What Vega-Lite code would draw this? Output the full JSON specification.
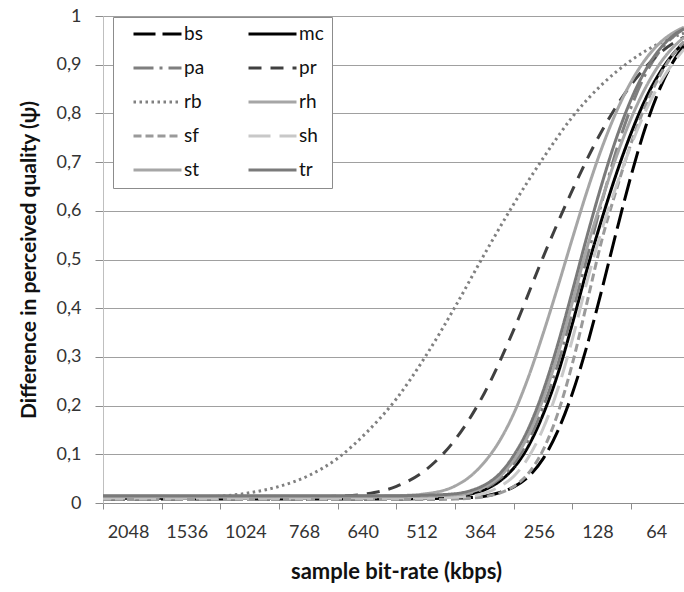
{
  "$schema": "https://vega.github.io/schema/vega-lite/v6.json",
  "width": 581,
  "height": 487,
  "autosize": {"type": "none"},
  "padding": {"left": 103, "top": 16, "right": 0, "bottom": 89},
  "background": "white",
  "config": {"font": "Lato", "view": {"stroke": null}},
  "data": {"values": [
    {"s":"bs","x":0,"y":0.008},{"s":"bs","x":2,"y":0.008},{"s":"bs","x":4,"y":0.008},{"s":"bs","x":5,"y":0.008},{"s":"bs","x":5.5,"y":0.009},{"s":"bs","x":6,"y":0.01},{"s":"bs","x":6.25,"y":0.011},{"s":"bs","x":6.5,"y":0.014},{"s":"bs","x":6.75,"y":0.021},{"s":"bs","x":7,"y":0.033},{"s":"bs","x":7.25,"y":0.054},{"s":"bs","x":7.5,"y":0.091},{"s":"bs","x":7.75,"y":0.148},{"s":"bs","x":8,"y":0.226},{"s":"bs","x":8.25,"y":0.324},{"s":"bs","x":8.5,"y":0.438},{"s":"bs","x":8.75,"y":0.558},{"s":"bs","x":9,"y":0.673},{"s":"bs","x":9.25,"y":0.774},{"s":"bs","x":9.5,"y":0.854},{"s":"bs","x":9.75,"y":0.913},{"s":"bs","x":9.9,"y":0.939},
    {"s":"mc","x":0,"y":0.01},{"s":"mc","x":2,"y":0.01},{"s":"mc","x":4,"y":0.01},{"s":"mc","x":5,"y":0.01},{"s":"mc","x":5.5,"y":0.01},{"s":"mc","x":6,"y":0.013},{"s":"mc","x":6.25,"y":0.018},{"s":"mc","x":6.5,"y":0.027},{"s":"mc","x":6.75,"y":0.044},{"s":"mc","x":7,"y":0.072},{"s":"mc","x":7.25,"y":0.117},{"s":"mc","x":7.5,"y":0.182},{"s":"mc","x":7.75,"y":0.265},{"s":"mc","x":8,"y":0.369},{"s":"mc","x":8.25,"y":0.481},{"s":"mc","x":8.5,"y":0.583},{"s":"mc","x":8.75,"y":0.677},{"s":"mc","x":9,"y":0.76},{"s":"mc","x":9.25,"y":0.831},{"s":"mc","x":9.5,"y":0.886},{"s":"mc","x":9.75,"y":0.927},{"s":"mc","x":9.9,"y":0.946},
    {"s":"pa","x":0,"y":0.012},{"s":"pa","x":2,"y":0.012},{"s":"pa","x":4,"y":0.012},{"s":"pa","x":5,"y":0.012},{"s":"pa","x":5.5,"y":0.013},{"s":"pa","x":6,"y":0.015},{"s":"pa","x":6.25,"y":0.02},{"s":"pa","x":6.5,"y":0.03},{"s":"pa","x":6.75,"y":0.049},{"s":"pa","x":7,"y":0.08},{"s":"pa","x":7.25,"y":0.128},{"s":"pa","x":7.5,"y":0.197},{"s":"pa","x":7.75,"y":0.285},{"s":"pa","x":8,"y":0.392},{"s":"pa","x":8.25,"y":0.505},{"s":"pa","x":8.5,"y":0.618},{"s":"pa","x":8.75,"y":0.725},{"s":"pa","x":9,"y":0.813},{"s":"pa","x":9.25,"y":0.882},{"s":"pa","x":9.5,"y":0.93},{"s":"pa","x":9.75,"y":0.961},{"s":"pa","x":9.9,"y":0.974},
    {"s":"pr","x":0,"y":0.012},{"s":"pr","x":1,"y":0.012},{"s":"pr","x":2,"y":0.012},{"s":"pr","x":3,"y":0.012},{"s":"pr","x":3.5,"y":0.012},{"s":"pr","x":4,"y":0.014},{"s":"pr","x":4.5,"y":0.019},{"s":"pr","x":5,"y":0.034},{"s":"pr","x":5.5,"y":0.068},{"s":"pr","x":6,"y":0.13},{"s":"pr","x":6.5,"y":0.226},{"s":"pr","x":7,"y":0.356},{"s":"pr","x":7.5,"y":0.505},{"s":"pr","x":8,"y":0.643},{"s":"pr","x":8.5,"y":0.764},{"s":"pr","x":9,"y":0.859},{"s":"pr","x":9.5,"y":0.925},{"s":"pr","x":9.9,"y":0.957},
    {"s":"rb","x":0,"y":0.01},{"s":"rb","x":1,"y":0.01},{"s":"rb","x":2,"y":0.014},{"s":"rb","x":2.5,"y":0.021},{"s":"rb","x":3,"y":0.034},{"s":"rb","x":3.5,"y":0.056},{"s":"rb","x":4,"y":0.092},{"s":"rb","x":4.5,"y":0.146},{"s":"rb","x":5,"y":0.214},{"s":"rb","x":5.5,"y":0.302},{"s":"rb","x":6,"y":0.403},{"s":"rb","x":6.5,"y":0.511},{"s":"rb","x":7,"y":0.614},{"s":"rb","x":7.5,"y":0.708},{"s":"rb","x":8,"y":0.793},{"s":"rb","x":8.5,"y":0.859},{"s":"rb","x":9,"y":0.909},{"s":"rb","x":9.5,"y":0.945},{"s":"rb","x":9.9,"y":0.965},
    {"s":"rh","x":0,"y":0.014},{"s":"rh","x":2,"y":0.014},{"s":"rh","x":4,"y":0.014},{"s":"rh","x":5,"y":0.015},{"s":"rh","x":5.5,"y":0.019},{"s":"rh","x":6,"y":0.035},{"s":"rh","x":6.25,"y":0.054},{"s":"rh","x":6.5,"y":0.084},{"s":"rh","x":6.75,"y":0.126},{"s":"rh","x":7,"y":0.184},{"s":"rh","x":7.25,"y":0.259},{"s":"rh","x":7.5,"y":0.348},{"s":"rh","x":7.75,"y":0.444},{"s":"rh","x":8,"y":0.544},{"s":"rh","x":8.25,"y":0.641},{"s":"rh","x":8.5,"y":0.729},{"s":"rh","x":8.75,"y":0.804},{"s":"rh","x":9,"y":0.865},{"s":"rh","x":9.25,"y":0.912},{"s":"rh","x":9.5,"y":0.946},{"s":"rh","x":9.75,"y":0.968},{"s":"rh","x":9.9,"y":0.977},
    {"s":"sf","x":0,"y":0.007},{"s":"sf","x":2,"y":0.007},{"s":"sf","x":4,"y":0.007},{"s":"sf","x":5,"y":0.007},{"s":"sf","x":5.5,"y":0.007},{"s":"sf","x":6,"y":0.008},{"s":"sf","x":6.25,"y":0.01},{"s":"sf","x":6.5,"y":0.013},{"s":"sf","x":6.75,"y":0.02},{"s":"sf","x":7,"y":0.034},{"s":"sf","x":7.25,"y":0.061},{"s":"sf","x":7.5,"y":0.109},{"s":"sf","x":7.75,"y":0.184},{"s":"sf","x":8,"y":0.287},{"s":"sf","x":8.25,"y":0.413},{"s":"sf","x":8.5,"y":0.54},{"s":"sf","x":8.75,"y":0.644},{"s":"sf","x":9,"y":0.739},{"s":"sf","x":9.25,"y":0.818},{"s":"sf","x":9.5,"y":0.88},{"s":"sf","x":9.75,"y":0.927},{"s":"sf","x":9.9,"y":0.947},
    {"s":"sh","x":0,"y":0.01},{"s":"sh","x":2,"y":0.01},{"s":"sh","x":4,"y":0.01},{"s":"sh","x":5,"y":0.01},{"s":"sh","x":5.5,"y":0.01},{"s":"sh","x":6,"y":0.012},{"s":"sh","x":6.25,"y":0.014},{"s":"sh","x":6.5,"y":0.02},{"s":"sh","x":6.75,"y":0.033},{"s":"sh","x":7,"y":0.055},{"s":"sh","x":7.25,"y":0.094},{"s":"sh","x":7.5,"y":0.153},{"s":"sh","x":7.75,"y":0.234},{"s":"sh","x":8,"y":0.337},{"s":"sh","x":8.25,"y":0.456},{"s":"sh","x":8.5,"y":0.561},{"s":"sh","x":8.75,"y":0.652},{"s":"sh","x":9,"y":0.735},{"s":"sh","x":9.25,"y":0.806},{"s":"sh","x":9.5,"y":0.864},{"s":"sh","x":9.75,"y":0.909},{"s":"sh","x":9.9,"y":0.932},
    {"s":"st","x":0,"y":0.013},{"s":"st","x":2,"y":0.013},{"s":"st","x":4,"y":0.013},{"s":"st","x":5,"y":0.013},{"s":"st","x":5.5,"y":0.014},{"s":"st","x":6,"y":0.017},{"s":"st","x":6.25,"y":0.022},{"s":"st","x":6.5,"y":0.033},{"s":"st","x":6.75,"y":0.053},{"s":"st","x":7,"y":0.088},{"s":"st","x":7.25,"y":0.14},{"s":"st","x":7.5,"y":0.214},{"s":"st","x":7.75,"y":0.305},{"s":"st","x":8,"y":0.413},{"s":"st","x":8.25,"y":0.525},{"s":"st","x":8.5,"y":0.622},{"s":"st","x":8.75,"y":0.712},{"s":"st","x":9,"y":0.79},{"s":"st","x":9.25,"y":0.854},{"s":"st","x":9.5,"y":0.904},{"s":"st","x":9.75,"y":0.94},{"s":"st","x":9.9,"y":0.956},
    {"s":"tr","x":0,"y":0.015},{"s":"tr","x":2,"y":0.015},{"s":"tr","x":4,"y":0.015},{"s":"tr","x":5,"y":0.015},{"s":"tr","x":5.5,"y":0.016},{"s":"tr","x":6,"y":0.019},{"s":"tr","x":6.25,"y":0.025},{"s":"tr","x":6.5,"y":0.037},{"s":"tr","x":6.75,"y":0.059},{"s":"tr","x":7,"y":0.098},{"s":"tr","x":7.25,"y":0.153},{"s":"tr","x":7.5,"y":0.23},{"s":"tr","x":7.75,"y":0.326},{"s":"tr","x":8,"y":0.436},{"s":"tr","x":8.25,"y":0.549},{"s":"tr","x":8.5,"y":0.655},{"s":"tr","x":8.75,"y":0.75},{"s":"tr","x":9,"y":0.829},{"s":"tr","x":9.25,"y":0.89},{"s":"tr","x":9.5,"y":0.934},{"s":"tr","x":9.75,"y":0.963},{"s":"tr","x":9.9,"y":0.974}
  ]},
  "mark": {"type": "line", "interpolate": "monotone", "clip": true},
  "encoding": {
    "x": {
      "field": "x", "type": "quantitative",
      "scale": {"domain": [0, 9.9], "nice": false, "zero": false},
      "axis": {
        "values": [0, 1, 2, 3, 4, 5, 6, 7, 8, 9],
        "labelExpr": "['2048','1536','1024','768','640','512','364','256','128','64'][datum.value]",
        "labelOffset": 25,
        "labelBound": false, "labelOverlap": false, "labelFlush": false,
        "grid": false,
        "tickSize": 6, "tickColor": "#8c8c8c", "domainColor": "#8c8c8c",
        "labelPadding": 14, "labelFontSize": 18, "labelColor": "#333333",
        "title": "sample bit-rate (kbps)", "titleFontSize": 22, "titleFontWeight": "bold",
        "titleColor": "#111111", "titleX": 293, "titlePadding": 20
      }
    },
    "y": {
      "field": "y", "type": "quantitative",
      "scale": {"domain": [0, 1], "nice": false},
      "axis": {
        "values": [0, 0.1, 0.2, 0.3, 0.4, 0.5, 0.6, 0.7, 0.8, 0.9, 1],
        "labelExpr": "replace(format(datum.value, '.1~f'), '.', ',')",
        "grid": true, "gridColor": "#a0a0a0",
        "tickSize": 8, "tickColor": "#8c8c8c", "domainColor": "#bfbfbf",
        "labelPadding": 14, "labelFontSize": 18, "labelColor": "#333333",
        "title": "Difference in perceived quality (ψ)", "titleFontSize": 21, "titleFontWeight": "bold",
        "titleColor": "#111111", "titlePadding": 17
      }
    },
    "color": {
      "field": "s", "type": "nominal",
      "scale": {
        "domain": ["bs","mc","pa","pr","rb","rh","sf","sh","st","tr"],
        "range": ["#000000","#000000","#7f7f7f","#404040","#808080","#a6a6a6","#9a9a9a","#c8c8c8","#a6a6a6","#7a7a7a"]
      },
      "legend": {
        "orient": "none", "legendX": 10, "legendY": 1,
        "direction": "horizontal", "columns": 2,
        "title": null,
        "symbolType": "stroke", "symbolSize": 2304,
        "clipHeight": 18, "rowPadding": 15, "columnPadding": 31,
        "symbolOffset": 11, "labelOffset": 1,
        "labelFontSize": 19, "labelColor": "#111111",
        "padding": 8, "strokeColor": "#8c8c8c", "fillColor": "white"
      }
    },
    "strokeDash": {
      "field": "s", "type": "nominal",
      "scale": {
        "domain": ["bs","mc","pa","pr","rb","rh","sf","sh","st","tr"],
        "range": [[22,7],[1,0],[20,6,3,6],[13,9],[2.5,3.5],[1,0],[8,4],[22,9],[1,0],[1,0]]
      }
    },
    "strokeWidth": {
      "field": "s", "type": "nominal",
      "scale": {
        "domain": ["bs","mc","pa","pr","rb","rh","sf","sh","st","tr"],
        "range": [3, 3, 2.5, 3, 2.5, 3, 3, 3.5, 1, 1.5]
      }
    }
  }
}
